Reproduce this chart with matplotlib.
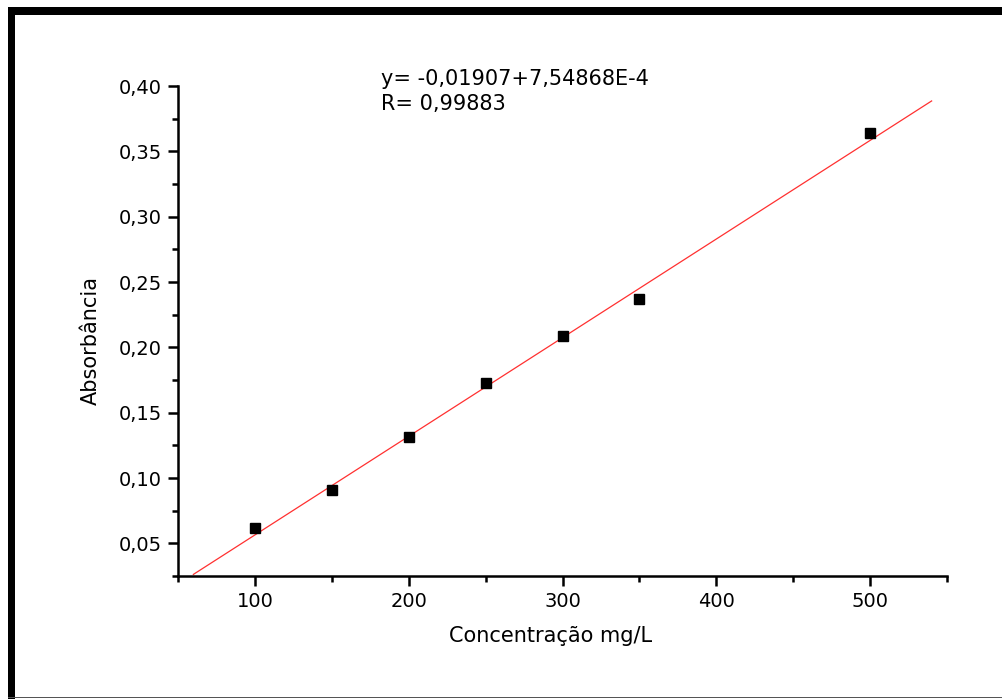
import matplotlib
matplotlib.use('Agg')
import matplotlib.pyplot as plt
from matplotlib.patches import Rectangle
from matplotlib.ticker import MultipleLocator, FuncFormatter

plt.rcParams['font.family'] = ['DejaVu Sans']

# calibration data
conc = [100, 150, 200, 250, 300, 350, 500]
absorb = [0.0615, 0.091, 0.131, 0.1725, 0.209, 0.237, 0.364]

# linear fit shown on chart
intercept = -0.01907
slope = 7.54868e-4
fit_x = [60, 540]
fit_y = [intercept + slope * v for v in fit_x]

eq_text = "y= -0,01907+7,54868E-4\nR= 0,99883"

fig = plt.figure(figsize=(10.03, 6.99), dpi=100)
W, H = 1003, 699

# frame around the picture
fig.add_artist(Rectangle((8 / W, 0), 7 / W, 1 - 7 / H, transform=fig.transFigure,
                         color='black', lw=0))
fig.add_artist(Rectangle((8 / W, 1 - 15 / H), 1 - 8 / W, 8 / H, transform=fig.transFigure,
                         color='black', lw=0))
fig.add_artist(Rectangle((8 / W, 1 / H), 1 - 8 / W, 1.5 / H, transform=fig.transFigure,
                         color='#555555', lw=0))

ax = fig.add_axes([178 / W, 1 - 576 / H, (947 - 178) / W, (576 - 86) / H])

ax.plot(fit_x, fit_y, color='#ff3030', lw=0.9)
ax.plot(conc, absorb, 's', color='black', markersize=7.5)

ax.set_xlim(50, 550)
ax.set_ylim(0.025, 0.40)
ax.xaxis.set_major_locator(MultipleLocator(100))
ax.xaxis.set_minor_locator(MultipleLocator(50))
ax.yaxis.set_major_locator(MultipleLocator(0.05))
ax.yaxis.set_minor_locator(MultipleLocator(0.025))
ax.yaxis.set_major_formatter(FuncFormatter(lambda v, p: f"{v:.2f}".replace('.', ',')))
ax.xaxis.set_major_formatter(FuncFormatter(lambda v, p: f"{v:.0f}"))

for s in ['top', 'right']:
    ax.spines[s].set_visible(False)
for s in ['left', 'bottom']:
    ax.spines[s].set_linewidth(1.8)

ax.tick_params(which='major', direction='out', length=7.5, width=1.8, labelsize=14, pad=4)
ax.tick_params(which='minor', direction='out', length=4, width=1.8)

ax.set_xlabel('Concentração mg/L', fontsize=15)
ax.set_ylabel('Absorbância', fontsize=15)
ax.xaxis.set_label_coords(0.484, -0.102)
ax.yaxis.set_label_coords(-0.1, 0.48)

ax.text(0.264, 1.035, eq_text, transform=ax.transAxes, fontsize=15,
        va='top', ha='left', linespacing=1.3)

fig.savefig('out.png', dpi=100)
